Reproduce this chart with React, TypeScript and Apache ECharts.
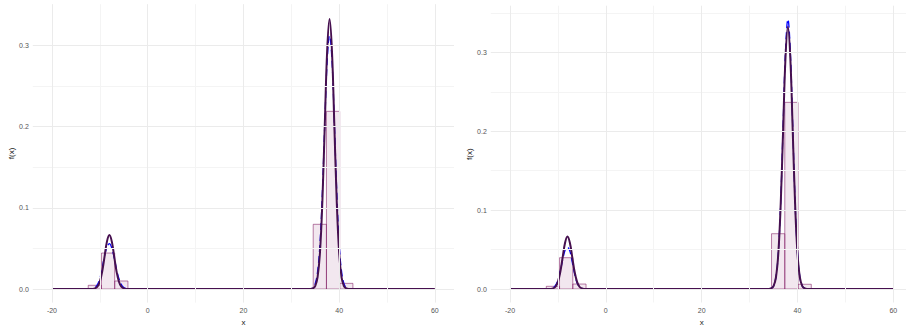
import React, { useEffect, useRef } from "react";
import * as echarts from "echarts";

// Histogram bins (shared by both panels)
const binStarts = [-12.42, -9.655, -6.89, 34.585, 37.35, 40.115];
const binWidth = 2.765;
const densityLeft = [0.0046, 0.0443, 0.0099, 0.0797, 0.2188, 0.007];
const densityRight = [0.0034, 0.0397, 0.0063, 0.0701, 0.2366, 0.006];

// Evaluation points for the curves
const curveX = [
  -20, -12, -11.5, -11, -10.5, -10, -9.5, -9, -8.5, -8, -7.5, -7, -6.5, -6, -5.5, -5, -4.5, -4,
  34, 34.5, 35, 35.5, 36, 36.5, 37, 37.5, 38, 38.5, 39, 39.5, 40, 40.5, 41, 41.5, 42, 60,
];

// True mixture density (solid dark curve)
const trueDensity = [
  0, 0, 0.0001, 0.0007, 0.0029, 0.009, 0.0216, 0.0403, 0.0587, 0.0665, 0.0587, 0.0403, 0.0216, 0.009, 0.0029, 0.0007, 0.0001, 0,
  0.0001, 0.0007, 0.0037, 0.0146, 0.045, 0.1079, 0.2017, 0.2934, 0.3324, 0.2934, 0.2017, 0.1079, 0.045, 0.0146, 0.0037, 0.0007, 0.0001, 0,
];

// Estimated densities (blue dashed curves)
const estLeft = [
  0, 0, 0.0006, 0.002, 0.0055, 0.0126, 0.026, 0.041, 0.0515, 0.0558, 0.0505, 0.0385, 0.0242, 0.0126, 0.0055, 0.002, 0.0006, 0,
  0.0003, 0.0016, 0.0066, 0.0214, 0.056, 0.119, 0.203, 0.28, 0.312, 0.282, 0.205, 0.121, 0.057, 0.022, 0.0068, 0.0017, 0.0003, 0,
];
const estRight = [
  0, 0, 0.0003, 0.0015, 0.0045, 0.011, 0.023, 0.037, 0.049, 0.053, 0.048, 0.034, 0.019, 0.008, 0.0028, 0.0008, 0.0002, 0,
  0.0001, 0.0008, 0.0038, 0.015, 0.0463, 0.111, 0.2075, 0.302, 0.342, 0.302, 0.2075, 0.111, 0.0463, 0.015, 0.0038, 0.0008, 0.0001, 0,
];

// Tick values and guide lines
const xTicks = [-20, 0, 20, 40, 60];
const xMinor = [-10, 10, 30, 50];
const yTicks = [0, 0.1, 0.2, 0.3];
const yMinorLeft = [0.05, 0.15, 0.25];
const yMinorRight = [0.05, 0.15, 0.25, 0.35];

const FONT = "'Liberation Sans', Arial, sans-serif";
const DARK = "#46104f";
const LABEL = "#555555";
const BAR_FILL = "rgba(128, 24, 96, 0.1)";
const BAR_STROKE = "rgba(128, 24, 96, 0.55)";
const MAJOR = "#ebebeb";
const MINOR = "#f4f4f4";

function pairs(xs: number[], ys: number[]) {
  return xs.map((x, i) => [x, ys[i]]);
}

function buildPanel(idx: number, dens: number[], est: number[], yMinor: number[]) {
  const bars = binStarts.map((s, i) => [s, s + binWidth, dens[i]]);
  const minorStyle = { color: MINOR, width: 1, type: "solid" };
  const majorStyle = { color: MAJOR, width: 1, type: "solid" };
  const guideLines = [
    ...xMinor.map((v) => ({ xAxis: v, lineStyle: minorStyle })),
    ...yMinor.map((v) => ({ yAxis: v, lineStyle: minorStyle })),
    ...xTicks.map((v) => ({ xAxis: v, lineStyle: majorStyle })),
    ...yTicks.map((v) => ({ yAxis: v, lineStyle: majorStyle })),
  ];
  return [
    {
      type: "line",
      xAxisIndex: idx,
      yAxisIndex: idx,
      data: [[0, 0]],
      showSymbol: false,
      lineStyle: { opacity: 0 },
      silent: true,
      z: 0,
      markLine: {
        silent: true,
        symbol: ["none", "none"],
        label: { show: false },
        lineStyle: { type: "solid", color: MAJOR, width: 1 },
        emphasis: { disabled: true },
        animation: false,
        data: guideLines,
      },
    },
    {
      type: "custom",
      xAxisIndex: idx,
      yAxisIndex: idx,
      data: bars,
      encode: { x: [0, 1], y: 2 },
      z: 1,
      renderItem: (_params: any, api: any) => {
        const p0 = api.coord([api.value(0), api.value(2)]);
        const p1 = api.coord([api.value(1), 0]);
        return {
          type: "rect",
          shape: { x: p0[0], y: p0[1], width: p1[0] - p0[0], height: p1[1] - p0[1] },
          style: { fill: BAR_FILL, stroke: BAR_STROKE, lineWidth: 1 },
        };
      },
    },
    {
      type: "line",
      xAxisIndex: idx,
      yAxisIndex: idx,
      data: pairs(curveX, est),
      showSymbol: false,
      smooth: 0.4,
      z: 2,
      lineStyle: { color: "#0000ff", width: 1.3, type: [7, 4] },
    },
    {
      type: "line",
      xAxisIndex: idx,
      yAxisIndex: idx,
      data: pairs(curveX, trueDensity),
      showSymbol: false,
      smooth: 0.4,
      z: 3,
      lineStyle: { color: DARK, width: 2 },
    },
  ];
}

function xAxisCfg(idx: number) {
  return {
    type: "value",
    gridIndex: idx,
    min: -24,
    max: 64,
    name: "x",
    nameLocation: "middle",
    nameGap: 12,
    nameTextStyle: { color: "#222222", fontSize: 8, fontFamily: FONT },
    axisLine: { show: false, onZero: false },
    axisTick: { show: false },
    splitLine: { show: false },
    axisLabel: {
      customValues: xTicks,
      color: LABEL,
      fontSize: 7,
      fontFamily: FONT,
      margin: 4,
      formatter: (v: number) => String(v),
    },
  };
}

function yAxisCfg(idx: number, min: number, max: number) {
  return {
    type: "value",
    gridIndex: idx,
    min,
    max,
    name: "f(x)",
    nameLocation: "middle",
    nameRotate: 90,
    nameGap: 11,
    nameTextStyle: { color: "#222222", fontSize: 8, fontFamily: FONT },
    axisLine: { show: false, onZero: false },
    axisTick: { show: false },
    splitLine: { show: false },
    axisLabel: {
      customValues: yTicks,
      color: LABEL,
      fontSize: 7,
      fontFamily: FONT,
      margin: 4,
      formatter: (v: number) => v.toFixed(1),
    },
  };
}

export default function App() {
  const ref = useRef<HTMLDivElement>(null);

  useEffect(() => {
    if (!ref.current) return;
    const chart = echarts.init(ref.current, undefined, { renderer: "svg" });
    chart.setOption({
      animation: false,
      backgroundColor: "#ffffff",
      textStyle: { fontFamily: FONT, color: LABEL },
      grid: [
        { left: 32.8, top: 4.2, width: 421.2, height: 298.4, outerBoundsMode: "none", containLabel: false },
        { left: 490.8, top: 5.7, width: 421.7, height: 296.8, outerBoundsMode: "none", containLabel: false },
      ],
      xAxis: [xAxisCfg(0), xAxisCfg(1)],
      yAxis: [yAxisCfg(0, -0.0167, 0.3507), yAxisCfg(1, -0.0171, 0.3591)],
      series: [
        ...buildPanel(0, densityLeft, estLeft, yMinorLeft),
        ...buildPanel(1, densityRight, estRight, yMinorRight),
      ],
    });
    return () => chart.dispose();
  }, []);

  return (
    <div
      ref={ref}
      style={{ position: "fixed", left: 0, top: 0, width: 906, height: 326, background: "#fff" }}
    />
  );
}
